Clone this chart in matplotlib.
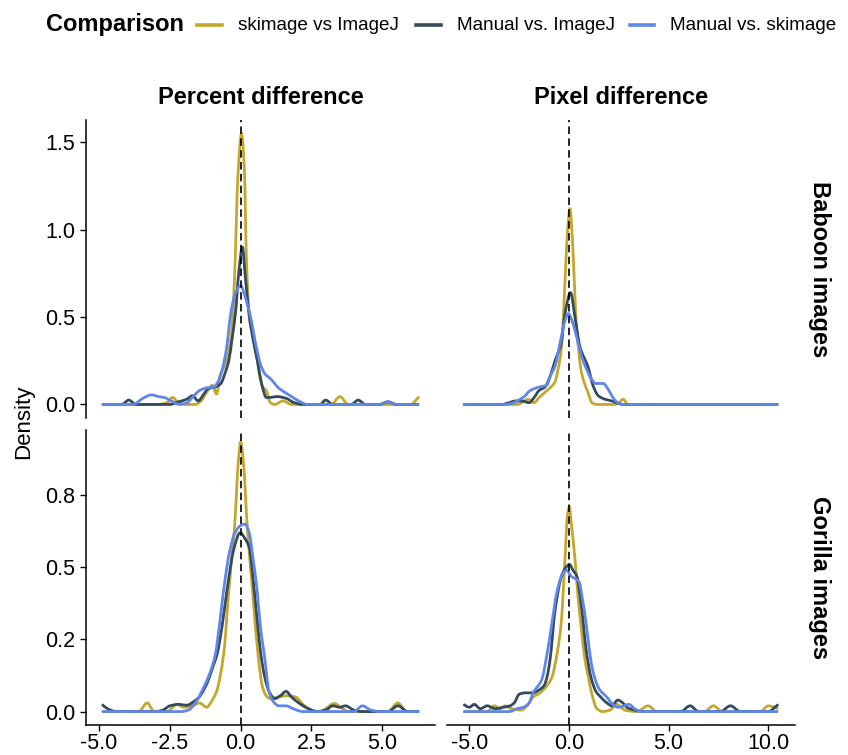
import numpy as np
import matplotlib
matplotlib.use("Agg")
import matplotlib.pyplot as plt
from matplotlib.path import Path
from matplotlib.patches import PathPatch
from matplotlib.lines import Line2D

# ---------------- data ----------------
categories = ["skimage vs ImageJ", "Manual vs. ImageJ", "Manual vs. skimage"]
colors = ["#C4A72B", "#344A5E", "#5F87E8"]
col_titles = ["Percent difference", "Pixel difference"]
row_titles = ["Baboon images", "Gorilla images"]

# Percent difference / Baboon
pb_skij_x = [-4.9, -2.9, -2.6, -2.4, -2.2, -1.9, -1.6, -1.4, -1.2, -1.0, -0.85, -0.72, -0.6, -0.45, -0.3, -0.2, -0.1, 0.03, 0.13, 0.2, 0.3, 0.45, 0.55, 0.65, 0.78, 0.9, 1.05, 1.2, 1.5, 1.8, 3.2, 3.5, 3.8, 6.0, 6.3]
pb_skij_y = [0, 0, 0.01, 0.04, 0.01, 0, 0, 0.02, 0.07, 0.11, 0.06, 0.17, 0.21, 0.28, 0.45, 0.8, 1.3, 1.55, 1.35, 0.85, 0.5, 0.38, 0.3, 0.18, 0.1, 0.08, 0.01, 0, 0.02, 0, 0, 0.045, 0, 0, 0.045]
pb_manij_x = [-4.9, -4.2, -3.95, -3.7, -2.5, -2.2, -1.9, -1.7, -1.5, -1.3, -1.15, -0.9, -0.7, -0.55, -0.42, -0.3, -0.18, -0.07, 0.06, 0.17, 0.29, 0.45, 0.59, 0.7, 0.8, 0.9, 1.0, 1.3, 1.6, 1.9, 2.2, 2.8, 3.0, 3.25, 3.9, 4.15, 4.4, 4.9, 5.2, 5.5, 6.3]
pb_manij_y = [0, 0, 0.025, 0, 0, 0.015, 0.03, 0.05, 0.02, 0.06, 0.09, 0.1, 0.12, 0.18, 0.25, 0.38, 0.53, 0.75, 0.9, 0.72, 0.53, 0.36, 0.25, 0.15, 0.08, 0.04, 0.04, 0.045, 0.035, 0.01, 0, 0, 0.025, 0, 0, 0.025, 0, 0, 0.015, 0, 0]
pb_mansk_x = [-4.9, -3.8, -3.45, -3.15, -2.9, -2.7, -2.45, -2.15, -1.9, -1.65, -1.45, -1.2, -0.95, -0.8, -0.65, -0.5, -0.35, -0.18, 0.0, 0.15, 0.35, 0.55, 0.72, 0.88, 1.0, 1.15, 1.3, 1.55, 1.8, 2.05, 2.35, 4.9, 5.2, 5.5, 6.3]
pb_mansk_y = [0, 0, 0.035, 0.055, 0.045, 0.04, 0.02, 0, 0.01, 0.05, 0.08, 0.095, 0.1, 0.13, 0.2, 0.32, 0.52, 0.64, 0.68, 0.62, 0.5, 0.33, 0.22, 0.17, 0.155, 0.13, 0.1, 0.07, 0.045, 0.02, 0, 0, 0.015, 0, 0]

# Pixel difference / Baboon
xb_skij_x = [-5.3, -2.6, -2.3, -2.05, -1.75, -1.5, -1.3, -1.1, -0.9, -0.7, -0.55, -0.37, -0.2, -0.07, 0.05, 0.17, 0.27, 0.37, 0.47, 0.6, 0.75, 0.95, 1.15, 1.4, 2.3, 2.5, 2.72, 2.95, 10.5]
xb_skij_y = [0, 0, 0.015, 0.03, 0.01, 0.04, 0.06, 0.08, 0.1, 0.13, 0.2, 0.33, 0.7, 1.0, 1.12, 0.95, 0.7, 0.45, 0.33, 0.2, 0.13, 0.07, 0.01, 0, 0, 0.01, 0.03, 0, 0]
xb_manij_x = [-5.3, -3.4, -3.0, -2.7, -2.35, -2.0, -1.75, -1.5, -1.2, -0.95, -0.7, -0.4, -0.2, 0.08, 0.3, 0.55, 0.97, 1.2, 1.47, 1.8, 2.15, 2.5, 2.8, 10.5]
xb_manij_y = [0, 0, 0.01, 0.02, 0.02, 0.01, 0.04, 0.08, 0.1, 0.16, 0.25, 0.35, 0.52, 0.64, 0.5, 0.33, 0.21, 0.11, 0.05, 0.03, 0.02, 0.005, 0, 0]
xb_mansk_x = [-5.3, -3.3, -2.9, -2.6, -2.2, -2.0, -1.75, -1.5, -1.12, -0.95, -0.7, -0.45, -0.2, -0.03, 0.15, 0.4, 0.65, 0.85, 1.1, 1.35, 1.72, 2.0, 2.2, 2.45, 2.7, 10.5]
xb_mansk_y = [0, 0, 0.005, 0.02, 0.05, 0.075, 0.09, 0.1, 0.11, 0.16, 0.22, 0.35, 0.48, 0.52, 0.48, 0.38, 0.27, 0.21, 0.15, 0.12, 0.12, 0.08, 0.04, 0.01, 0, 0]

# Percent difference / Gorilla
pg_skij_x = [-4.9, -3.6, -3.3, -3.05, -2.6, -2.25, -2.0, -1.7, -1.45, -1.2, -1.0, -0.85, -0.6, -0.41, -0.21, -0.08, 0.0, 0.1, 0.24, 0.41, 0.61, 0.77, 0.9, 1.05, 1.3, 1.65, 1.95, 2.2, 2.5, 2.8, 3.0, 3.3, 3.6, 3.8, 5.2, 5.55, 5.85, 6.3]
pg_skij_y = [0, 0, 0.03, 0, 0, 0.025, 0.015, 0.02, 0.03, 0.015, 0.04, 0.07, 0.2, 0.43, 0.65, 0.87, 0.935, 0.86, 0.63, 0.43, 0.2, 0.086, 0.055, 0.045, 0.05, 0.055, 0.05, 0.025, 0.005, 0, 0.01, 0.028, 0.01, 0, 0, 0.03, 0, 0]
pg_manij_x = [-4.9, -4.7, -4.4, -3.0, -2.75, -2.5, -2.2, -1.9, -1.65, -1.47, -1.18, -1.0, -0.83, -0.65, -0.47, -0.25, -0.02, 0.15, 0.3, 0.47, 0.6, 0.71, 0.85, 1.0, 1.2, 1.4, 1.6, 1.8, 2.05, 2.35, 2.7, 3.0, 3.25, 3.5, 3.7, 4.0, 4.3, 5.2, 5.55, 5.9, 6.3]
pg_manij_y = [0.025, 0.01, 0, 0, 0.005, 0.02, 0.025, 0.022, 0.035, 0.05, 0.1, 0.15, 0.2, 0.3, 0.43, 0.56, 0.62, 0.6, 0.57, 0.43, 0.3, 0.2, 0.12, 0.07, 0.045, 0.055, 0.07, 0.05, 0.03, 0.012, 0, 0.005, 0.02, 0.015, 0.02, 0.005, 0, 0, 0.02, 0, 0]
pg_mansk_x = [-4.9, -2.1, -1.85, -1.6, -1.3, -1.1, -0.89, -0.75, -0.59, -0.4, -0.2, 0.0, 0.15, 0.3, 0.45, 0.57, 0.7, 0.83, 1.0, 1.15, 1.35, 1.6, 1.85, 2.2, 4.0, 4.3, 4.6, 4.9, 6.3]
pg_mansk_y = [0, 0, 0.005, 0.03, 0.085, 0.13, 0.2, 0.3, 0.43, 0.55, 0.62, 0.645, 0.65, 0.62, 0.52, 0.43, 0.29, 0.2, 0.07, 0.035, 0.02, 0.02, 0.01, 0, 0, 0.02, 0.005, 0, 0]

# Pixel difference / Gorilla
xg_skij_x = [-5.3, -4.1, -3.75, -3.45, -3.2, -2.9, -2.4, -2.1, -1.8, -1.45, -1.1, -0.85, -0.6, -0.4, -0.2, -0.08, 0.02, 0.12, 0.3, 0.45, 0.6, 0.8, 0.97, 1.15, 1.4, 1.7, 2.05, 2.4, 2.8, 3.4, 3.98, 4.4, 6.8, 7.25, 7.7, 9.6, 10.0, 10.3, 10.5]
xg_skij_y = [0, 0, 0.02, 0.01, 0.02, 0.01, 0.005, 0.02, 0.05, 0.065, 0.09, 0.12, 0.2, 0.3, 0.53, 0.68, 0.71, 0.65, 0.53, 0.4, 0.3, 0.18, 0.12, 0.06, 0.01, 0, 0.005, 0.025, 0.005, 0, 0.02, 0, 0, 0.02, 0, 0, 0.02, 0.015, 0.01]
xg_manij_x = [-5.3, -5.0, -4.75, -4.45, -4.1, -3.7, -3.3, -2.95, -2.75, -2.5, -2.2, -1.8, -1.5, -1.25, -1.1, -0.95, -0.7, -0.37, -0.15, 0.02, 0.2, 0.39, 0.65, 0.85, 1.1, 1.35, 1.6, 1.9, 2.15, 2.45, 2.7, 2.9, 3.3, 3.7, 5.6, 6.08, 6.5, 7.6, 8.1, 8.6, 10.0, 10.5]
xg_manij_y = [0.025, 0.015, 0.025, 0.01, 0.02, 0.01, 0.015, 0.02, 0.03, 0.06, 0.065, 0.065, 0.075, 0.09, 0.12, 0.18, 0.35, 0.47, 0.5, 0.51, 0.49, 0.47, 0.35, 0.22, 0.12, 0.07, 0.05, 0.03, 0.02, 0.04, 0.03, 0.015, 0.005, 0, 0, 0.02, 0, 0, 0.02, 0, 0, 0.025]
xg_mansk_x = [-5.3, -3.0, -2.6, -2.3, -2.0, -1.8, -1.37, -1.1, -0.87, -0.62, -0.3, -0.12, 0.1, 0.5, 0.7, 0.87, 1.05, 1.2, 1.5, 1.9, 2.2, 2.45, 2.75, 3.0, 3.3, 3.6, 10.5]
xg_mansk_y = [0, 0, 0.01, 0.015, 0.03, 0.065, 0.11, 0.2, 0.3, 0.41, 0.48, 0.49, 0.47, 0.45, 0.38, 0.3, 0.2, 0.14, 0.08, 0.05, 0.025, 0.015, 0.02, 0.025, 0.01, 0, 0]

curves = {
    (0, 0): [(pb_skij_x, pb_skij_y), (pb_manij_x, pb_manij_y), (pb_mansk_x, pb_mansk_y)],
    (0, 1): [(xb_skij_x, xb_skij_y), (xb_manij_x, xb_manij_y), (xb_mansk_x, xb_mansk_y)],
    (1, 0): [(pg_skij_x, pg_skij_y), (pg_manij_x, pg_manij_y), (pg_mansk_x, pg_mansk_y)],
    (1, 1): [(xg_skij_x, xg_skij_y), (xg_manij_x, xg_manij_y), (xg_mansk_x, xg_mansk_y)],
}

col_xticks = [[-5, -2.5, 0, 2.5, 5], [-5, 0, 5, 10]]
col_xticklabels = [["-5.0", "-2.5", "0.0", "2.5", "5.0"], ["-5.0", "0.0", "5.0", "10.0"]]
row_yticks = [[0, 0.5, 1.0, 1.5], [0, 0.25, 0.5, 0.75]]
row_yticklabels = [["0.0", "0.5", "1.0", "1.5"], ["0.0", "0.2", "0.5", "0.8"]]
col_xlim = [(-5.46, 6.86), (-6.12, 11.34)]
row_ylim = [(-0.0775, 1.6275), (-0.0465, 0.976)]


def smooth_path(x, y):
    """Monotone cubic Bezier path through the given points."""
    x = np.asarray(x, float)
    y = np.asarray(y, float)
    h = np.diff(x)
    d = np.diff(y) / h
    m = np.zeros_like(x)
    for i in range(1, len(x) - 1):
        if d[i - 1] * d[i] <= 0:
            m[i] = 0.0
        else:
            w1 = 2 * h[i] + h[i - 1]
            w2 = h[i] + 2 * h[i - 1]
            m[i] = (w1 + w2) / (w1 / d[i - 1] + w2 / d[i])
    m[0] = d[0]
    m[-1] = d[-1]
    verts = [(x[0], y[0])]
    codes = [Path.MOVETO]
    for i in range(len(x) - 1):
        verts.append((x[i] + h[i] / 3, y[i] + m[i] * h[i] / 3))
        verts.append((x[i + 1] - h[i] / 3, y[i + 1] - m[i + 1] * h[i] / 3))
        verts.append((x[i + 1], y[i + 1]))
        codes += [Path.CURVE4] * 3
    return Path(verts, codes)


plt.rcParams["font.family"] = ["Liberation Sans", "DejaVu Sans"]
plt.rcParams["axes.unicode_minus"] = False

W, H = 848, 755
fig = plt.figure(figsize=(W / 100, H / 100), dpi=100)


def fx(px):
    return px / W


def fy(py):
    return 1 - py / H


col_px = [(86, 435), (447, 795)]
row_px = [(120, 418), (430, 725)]

for r in range(2):
    for c in range(2):
        x0, x1 = col_px[c]
        y0, y1 = row_px[r]
        ax = fig.add_axes([fx(x0), fy(y1), (x1 - x0) / W, (y1 - y0) / H])
        ax.set_facecolor("none")
        for k, (xs, ys) in enumerate(curves[(r, c)]):
            ax.add_patch(PathPatch(smooth_path(xs, ys), fill=False,
                                   edgecolor=colors[k], lw=2.0,
                                   joinstyle="round", zorder=2 + k))
        ax.axvline(0, color="black", lw=1.2, ls=(0, (4.5, 2.6)), zorder=6)
        ax.set_xlim(*col_xlim[c])
        ax.set_ylim(*row_ylim[r])
        for s in ["top", "right"]:
            ax.spines[s].set_visible(False)
        ax.spines["left"].set_visible(c == 0)
        ax.spines["bottom"].set_visible(r == 1)
        ax.spines["left"].set_linewidth(1.1)
        ax.spines["bottom"].set_linewidth(1.1)
        if c == 0:
            ax.set_yticks(row_yticks[r])
            ax.set_yticklabels(row_yticklabels[r])
            ax.tick_params(axis="y", length=4.3, width=1.0, pad=3.5,
                           labelsize=15.5, colors="black")
        else:
            ax.tick_params(axis="y", left=False, labelleft=False)
        if r == 1:
            ax.set_xticks(col_xticks[c])
            ax.set_xticklabels(col_xticklabels[c])
            ax.tick_params(axis="x", length=4.3, width=1.0, pad=1.5,
                           labelsize=15.5, colors="black")
        else:
            ax.tick_params(axis="x", bottom=False, labelbottom=False)

# facet strips
for c in range(2):
    fig.text(fx(sum(col_px[c]) / 2), fy(97), col_titles[c], ha="center", va="center",
             fontsize=17, fontweight="bold")
for r in range(2):
    fig.text(fx(820), fy(sum(row_px[r]) / 2), row_titles[r], rotation=270,
             ha="center", va="center", fontsize=17, fontweight="bold")

fig.text(fx(24), fy(422), "Density", rotation=90, ha="center", va="center", fontsize=16)

# legend on top
ly = fy(25)
fig.text(fx(46), ly, "Comparison", ha="left", va="center", fontsize=17, fontweight="bold")
key_x = [(197, 222), (416, 441), (630, 654)]
lab_x = [238, 457, 670]
for k in range(3):
    fig.add_artist(Line2D([fx(key_x[k][0]), fx(key_x[k][1])], [ly, ly],
                          transform=fig.transFigure, color=colors[k], lw=2.6))
    fig.text(fx(lab_x[k]), ly, categories[k], ha="left", va="center", fontsize=13.6)

fig.savefig("out.png", dpi=100)
